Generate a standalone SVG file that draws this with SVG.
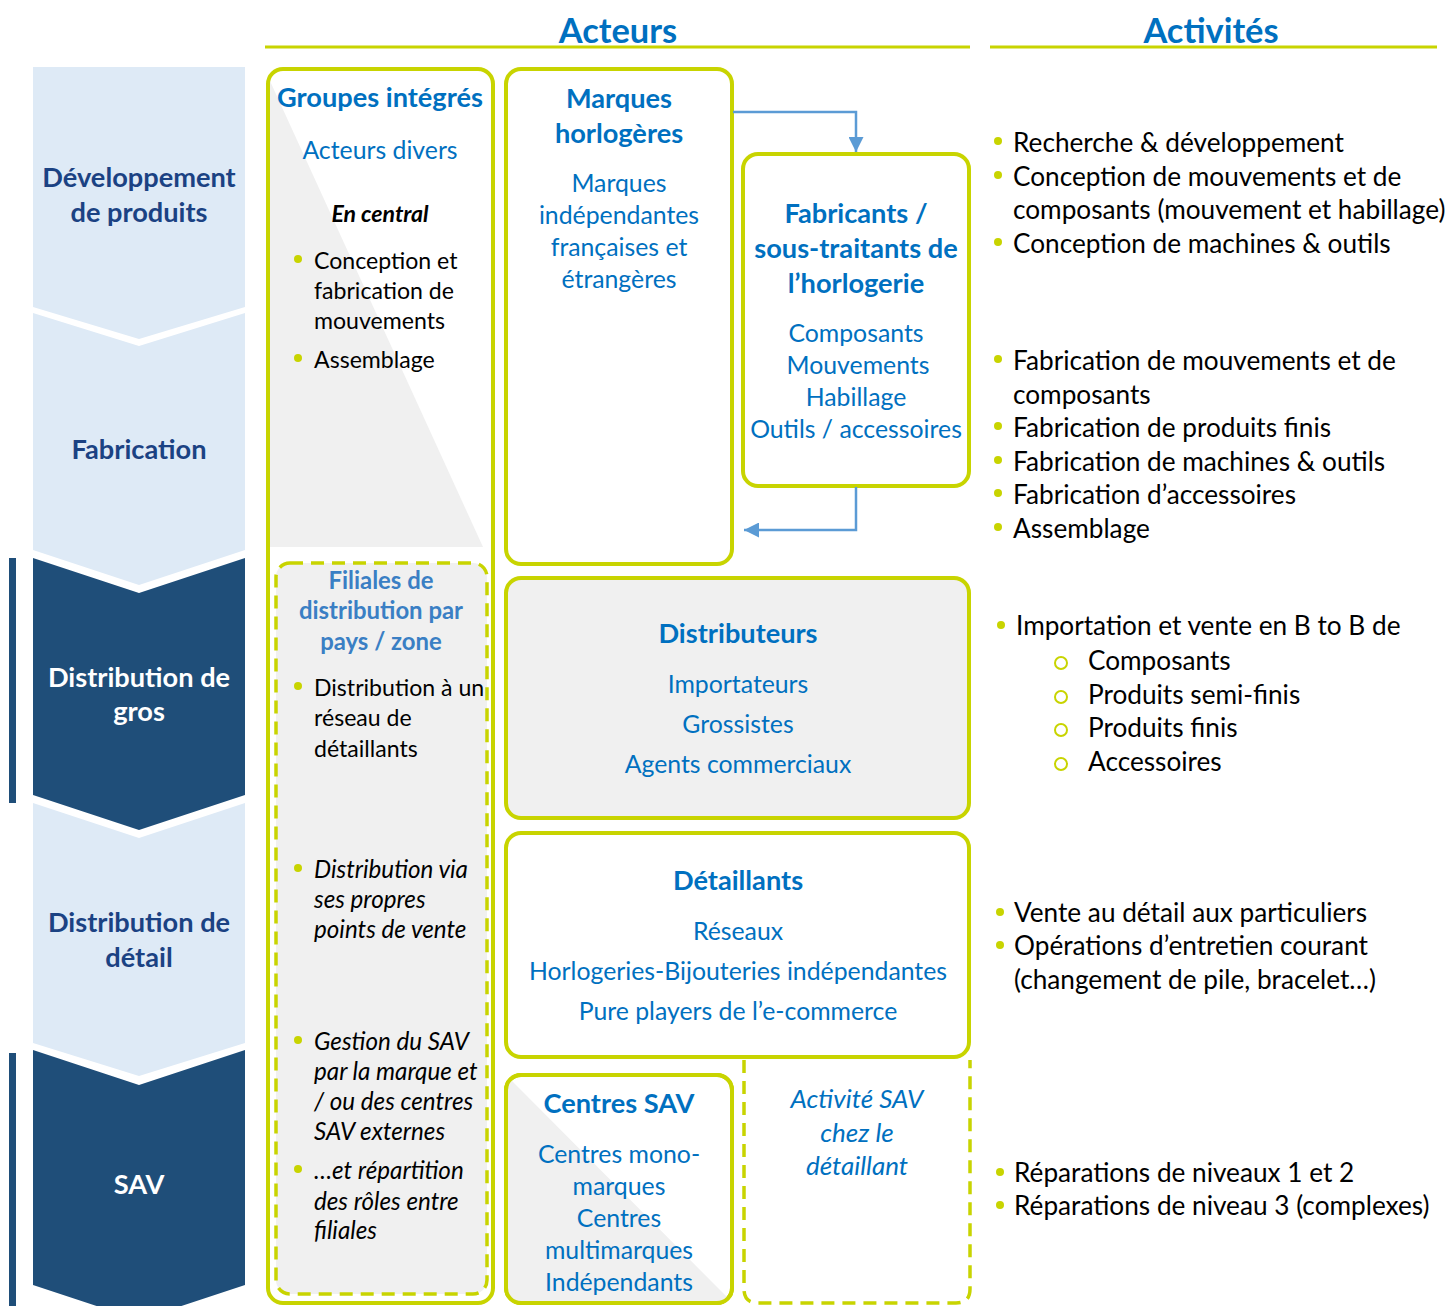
<svg xmlns="http://www.w3.org/2000/svg" width="1453" height="1306" viewBox="0 0 1453 1306">
<style>
text{font-family:Lato,"Liberation Sans",sans-serif}
.hdr{font-weight:bold;font-size:34.4px;fill:#0070C0;text-anchor:middle}
.ph{font-weight:bold;font-size:27.2px;text-anchor:middle}
.phl{fill:#1B4283}
.phd{fill:#ffffff}
.bt{font-weight:bold;fill:#0070C0;font-size:27.2px;text-anchor:middle}
.bl{fill:#0070C0;font-size:24.8px;text-anchor:middle}
.bli{font-style:italic;font-size:26px}
.fil{font-weight:bold;fill:#3A7FC4;font-size:23.9px;text-anchor:middle}
.body{fill:#000;font-size:23.1px}
.it{font-style:italic;font-size:24.2px}
.act{fill:#000;font-size:26.2px}
.box{stroke:#C8D400;stroke-width:4;fill:#fff}
.gbox{stroke:#C8D400;stroke-width:4;fill:#F0F0F0}
.dash{stroke:#C8D400;stroke-width:3.5;stroke-dasharray:13 8;fill:none}
.dot{fill:#C8D400}
.ring{fill:none;stroke:#C8D400;stroke-width:2}
.conn{fill:none;stroke:#5B9BD5;stroke-width:2.5}
</style>
<defs>
<marker id="ah" viewBox="0 0 10 10" refX="10" refY="5" markerWidth="6" markerHeight="6" orient="auto" markerUnits="strokeWidth">
<path d="M0,0 L10,5 L0,10 Z" fill="#5B9BD5"/>
</marker>
<clipPath id="clipG"><rect x="268" y="69" width="225" height="1234" rx="15"/></clipPath>
<clipPath id="clipC"><rect x="506" y="1075" width="226" height="228" rx="15"/></clipPath>
</defs>

<!-- headers -->
<g id="headers">
<text class="hdr" x="618" y="43">Acteurs</text>
<line x1="265" y1="47" x2="970" y2="47" stroke="#C8D400" stroke-width="3"/>
<text class="hdr" x="1211" y="43">Activités</text>
<line x1="990" y1="47" x2="1437" y2="47" stroke="#C8D400" stroke-width="3"/>
</g>

<!-- phases -->
<g id="phase-dev">
<path d="M33,67 H245 V307 L139,339 L33,307 Z" fill="#DEEAF6"/>
<text class="ph phl" x="139" y="187">Développement</text>
<text class="ph phl" x="139" y="222">de produits</text>
</g>
<g id="phase-fab">
<path d="M33,313 L139,346 L245,313 V550 L139,585 L33,550 Z" fill="#DEEAF6"/>
<text class="ph phl" x="139" y="459">Fabrication</text>
</g>
<g id="phase-gros">
<rect x="9" y="558" width="7" height="245" fill="#1F4E79"/>
<path d="M33,558 L139,593 L245,558 V795 L139,830 L33,795 Z" fill="#1F4E79"/>
<text class="ph phd" x="139" y="687">Distribution de</text>
<text class="ph phd" x="139" y="721">gros</text>
</g>
<g id="phase-detail">
<path d="M33,803 L139,838 L245,803 V1043 L139,1076 L33,1043 Z" fill="#DEEAF6"/>
<text class="ph phl" x="139" y="932">Distribution de</text>
<text class="ph phl" x="139" y="967">détail</text>
</g>
<g id="phase-sav">
<rect x="9" y="1053" width="7" height="253" fill="#1F4E79"/>
<path d="M33,1050 L139,1085 L245,1050 V1285 L139,1320 L33,1285 Z" fill="#1F4E79"/>
<text class="ph phd" x="139" y="1194">SAV</text>
</g>

<!-- Groupes intégrés -->
<g id="groupes">
<rect class="box" x="268" y="69" width="225" height="1234" rx="15"/>
<polygon points="270,81 483,547 270,547" fill="#F0F0F0" clip-path="url(#clipG)"/>
<text class="bt" x="380" y="107">Groupes intégrés</text>
<text class="bl" x="380" y="159">Acteurs divers</text>
<text class="body" x="380" y="222" font-weight="bold" font-style="italic" font-size="25px" text-anchor="middle">En central</text>
<circle class="dot" cx="298" cy="259" r="4"/>
<text class="body" x="314" y="269">Conception et</text>
<text class="body" x="314" y="299">fabrication de</text>
<text class="body" x="314" y="329">mouvements</text>
<circle class="dot" cx="298" cy="358" r="4"/>
<text class="body" x="314" y="368">Assemblage</text>
</g>

<!-- Filiales -->
<g id="filiales">
<rect x="276" y="563" width="211" height="731" rx="14" fill="#F0F0F0"/>
<rect class="dash" x="276" y="563" width="211" height="731" rx="14"/>
<text class="fil" x="381" y="589">Filiales de</text>
<text class="fil" x="381" y="619">distribution par</text>
<text class="fil" x="381" y="650">pays / zone</text>
<circle class="dot" cx="298" cy="686" r="4"/>
<text class="body" x="314" y="696">Distribution à un</text>
<text class="body" x="314" y="726">réseau de</text>
<text class="body" x="314" y="757">détaillants</text>
<circle class="dot" cx="298" cy="868" r="4"/>
<text class="body it" x="314" y="878">Distribution via</text>
<text class="body it" x="314" y="908">ses propres</text>
<text class="body it" x="314" y="938">points de vente</text>
<circle class="dot" cx="298" cy="1040" r="4"/>
<text class="body it" x="314" y="1050">Gestion du SAV</text>
<text class="body it" x="314" y="1080">par la marque et</text>
<text class="body it" x="314" y="1110">/ ou des centres</text>
<text class="body it" x="314" y="1140">SAV externes</text>
<circle class="dot" cx="298" cy="1169" r="4"/>
<text class="body it" x="314" y="1179">…et répartition</text>
<text class="body it" x="314" y="1210">des rôles entre</text>
<text class="body it" x="314" y="1239">filiales</text>
</g>

<!-- Marques -->
<g id="marques">
<rect class="box" x="506" y="69" width="226" height="495" rx="15"/>
<text class="bt" x="619" y="108">Marques</text>
<text class="bt" x="619" y="143">horlogères</text>
<text class="bl" x="619" y="192">Marques</text>
<text class="bl" x="619" y="224">indépendantes</text>
<text class="bl" x="619" y="256">françaises et</text>
<text class="bl" x="619" y="288">étrangères</text>
</g>

<!-- Fabricants -->
<g id="fabricants">
<rect class="box" x="743" y="154" width="226" height="332" rx="15"/>
<text class="bt" x="856" y="223">Fabricants /</text>
<text class="bt" x="856" y="258">sous-traitants de</text>
<text class="bt" x="856" y="293">l’horlogerie</text>
<text class="bl" x="856" y="342">Composants</text>
<text class="bl" x="858" y="374">Mouvements</text>
<text class="bl" x="856" y="406">Habillage</text>
<text class="bl" x="856" y="438">Outils / accessoires</text>
</g>

<!-- Distributeurs -->
<g id="distributeurs">
<rect class="gbox" x="506" y="578" width="463" height="240" rx="15"/>
<text class="bt" x="738" y="643">Distributeurs</text>
<text class="bl" x="738" y="693">Importateurs</text>
<text class="bl" x="738" y="733">Grossistes</text>
<text class="bl" x="738" y="773">Agents commerciaux</text>
</g>

<!-- Détaillants -->
<g id="detaillants">
<rect class="box" x="506" y="833" width="463" height="224" rx="15"/>
<text class="bt" x="738" y="890">Détaillants</text>
<text class="bl" x="738" y="940">Réseaux</text>
<text class="bl" x="738" y="980">Horlogeries-Bijouteries indépendantes</text>
<text class="bl" x="738" y="1020">Pure players de l’e-commerce</text>
</g>

<!-- Centres SAV -->
<g id="centres-sav">
<rect class="box" x="506" y="1075" width="226" height="228" rx="15"/>
<polygon points="508,1077 731,1301 508,1301" fill="#F0F0F0" clip-path="url(#clipC)"/>
<rect x="506" y="1075" width="226" height="228" rx="15" fill="none" stroke="#C8D400" stroke-width="4"/>
<text class="bt" x="619" y="1113">Centres SAV</text>
<text class="bl" x="619" y="1163">Centres mono-</text>
<text class="bl" x="619" y="1195">marques</text>
<text class="bl" x="619" y="1227">Centres</text>
<text class="bl" x="619" y="1259">multimarques</text>
<text class="bl" x="619" y="1291">Indépendants</text>
</g>

<!-- Activité SAV chez le détaillant -->
<g id="activite-sav">
<path class="dash" d="M744,1060 V1289 Q744,1303 758,1303 H956 Q970,1303 970,1289 V1060"/>
<text class="bl bli" x="857" y="1108">Activité SAV</text>
<text class="bl bli" x="857" y="1142">chez le</text>
<text class="bl bli" x="857" y="1175">détaillant</text>
</g>

<!-- connectors -->
<g id="connectors">
<path class="conn" d="M733,112 H856 V152" marker-end="url(#ah)"/>
<path class="conn" d="M856,487 V530 H744" marker-end="url(#ah)"/>
</g>

<!-- Activités -->
<g id="act-dev">
<circle class="dot" cx="998" cy="141" r="4"/>
<text class="act" x="1013" y="152">Recherche &amp; développement</text>
<circle class="dot" cx="998" cy="175" r="4"/>
<text class="act" x="1013" y="186">Conception de mouvements et de</text>
<text class="act" x="1013" y="219">composants (mouvement et habillage)</text>
<circle class="dot" cx="998" cy="242" r="4"/>
<text class="act" x="1013" y="253">Conception de machines &amp; outils</text>
</g>
<g id="act-fab">
<circle class="dot" cx="998" cy="359" r="4"/>
<text class="act" x="1013" y="370">Fabrication de mouvements et de</text>
<text class="act" x="1013" y="404">composants</text>
<circle class="dot" cx="998" cy="426" r="4"/>
<text class="act" x="1013" y="437">Fabrication de produits finis</text>
<circle class="dot" cx="998" cy="460" r="4"/>
<text class="act" x="1013" y="471">Fabrication de machines &amp; outils</text>
<circle class="dot" cx="998" cy="493" r="4"/>
<text class="act" x="1013" y="504">Fabrication d’accessoires</text>
<circle class="dot" cx="998" cy="527" r="4"/>
<text class="act" x="1013" y="538">Assemblage</text>
</g>
<g id="act-gros">
<circle class="dot" cx="1001" cy="625" r="4"/>
<text class="act" x="1016" y="635">Importation et vente en B to B de</text>
<circle class="ring" cx="1061" cy="663" r="6"/>
<text class="act" x="1088" y="670">Composants</text>
<circle class="ring" cx="1061" cy="697" r="6"/>
<text class="act" x="1088" y="704">Produits semi-finis</text>
<circle class="ring" cx="1061" cy="730" r="6"/>
<text class="act" x="1088" y="737">Produits finis</text>
<circle class="ring" cx="1061" cy="764" r="6"/>
<text class="act" x="1088" y="771">Accessoires</text>
</g>
<g id="act-detail">
<circle class="dot" cx="1000" cy="912" r="4"/>
<text class="act" x="1014" y="922">Vente au détail aux particuliers</text>
<circle class="dot" cx="1000" cy="945" r="4"/>
<text class="act" x="1014" y="955">Opérations d’entretien courant</text>
<text class="act" x="1014" y="989">(changement de pile, bracelet…)</text>
</g>
<g id="act-sav">
<circle class="dot" cx="1000" cy="1172" r="4"/>
<text class="act" x="1014" y="1182">Réparations de niveaux 1 et 2</text>
<circle class="dot" cx="1000" cy="1205" r="4"/>
<text class="act" x="1014" y="1215">Réparations de niveau 3 (complexes)</text>
</g>
</svg>
